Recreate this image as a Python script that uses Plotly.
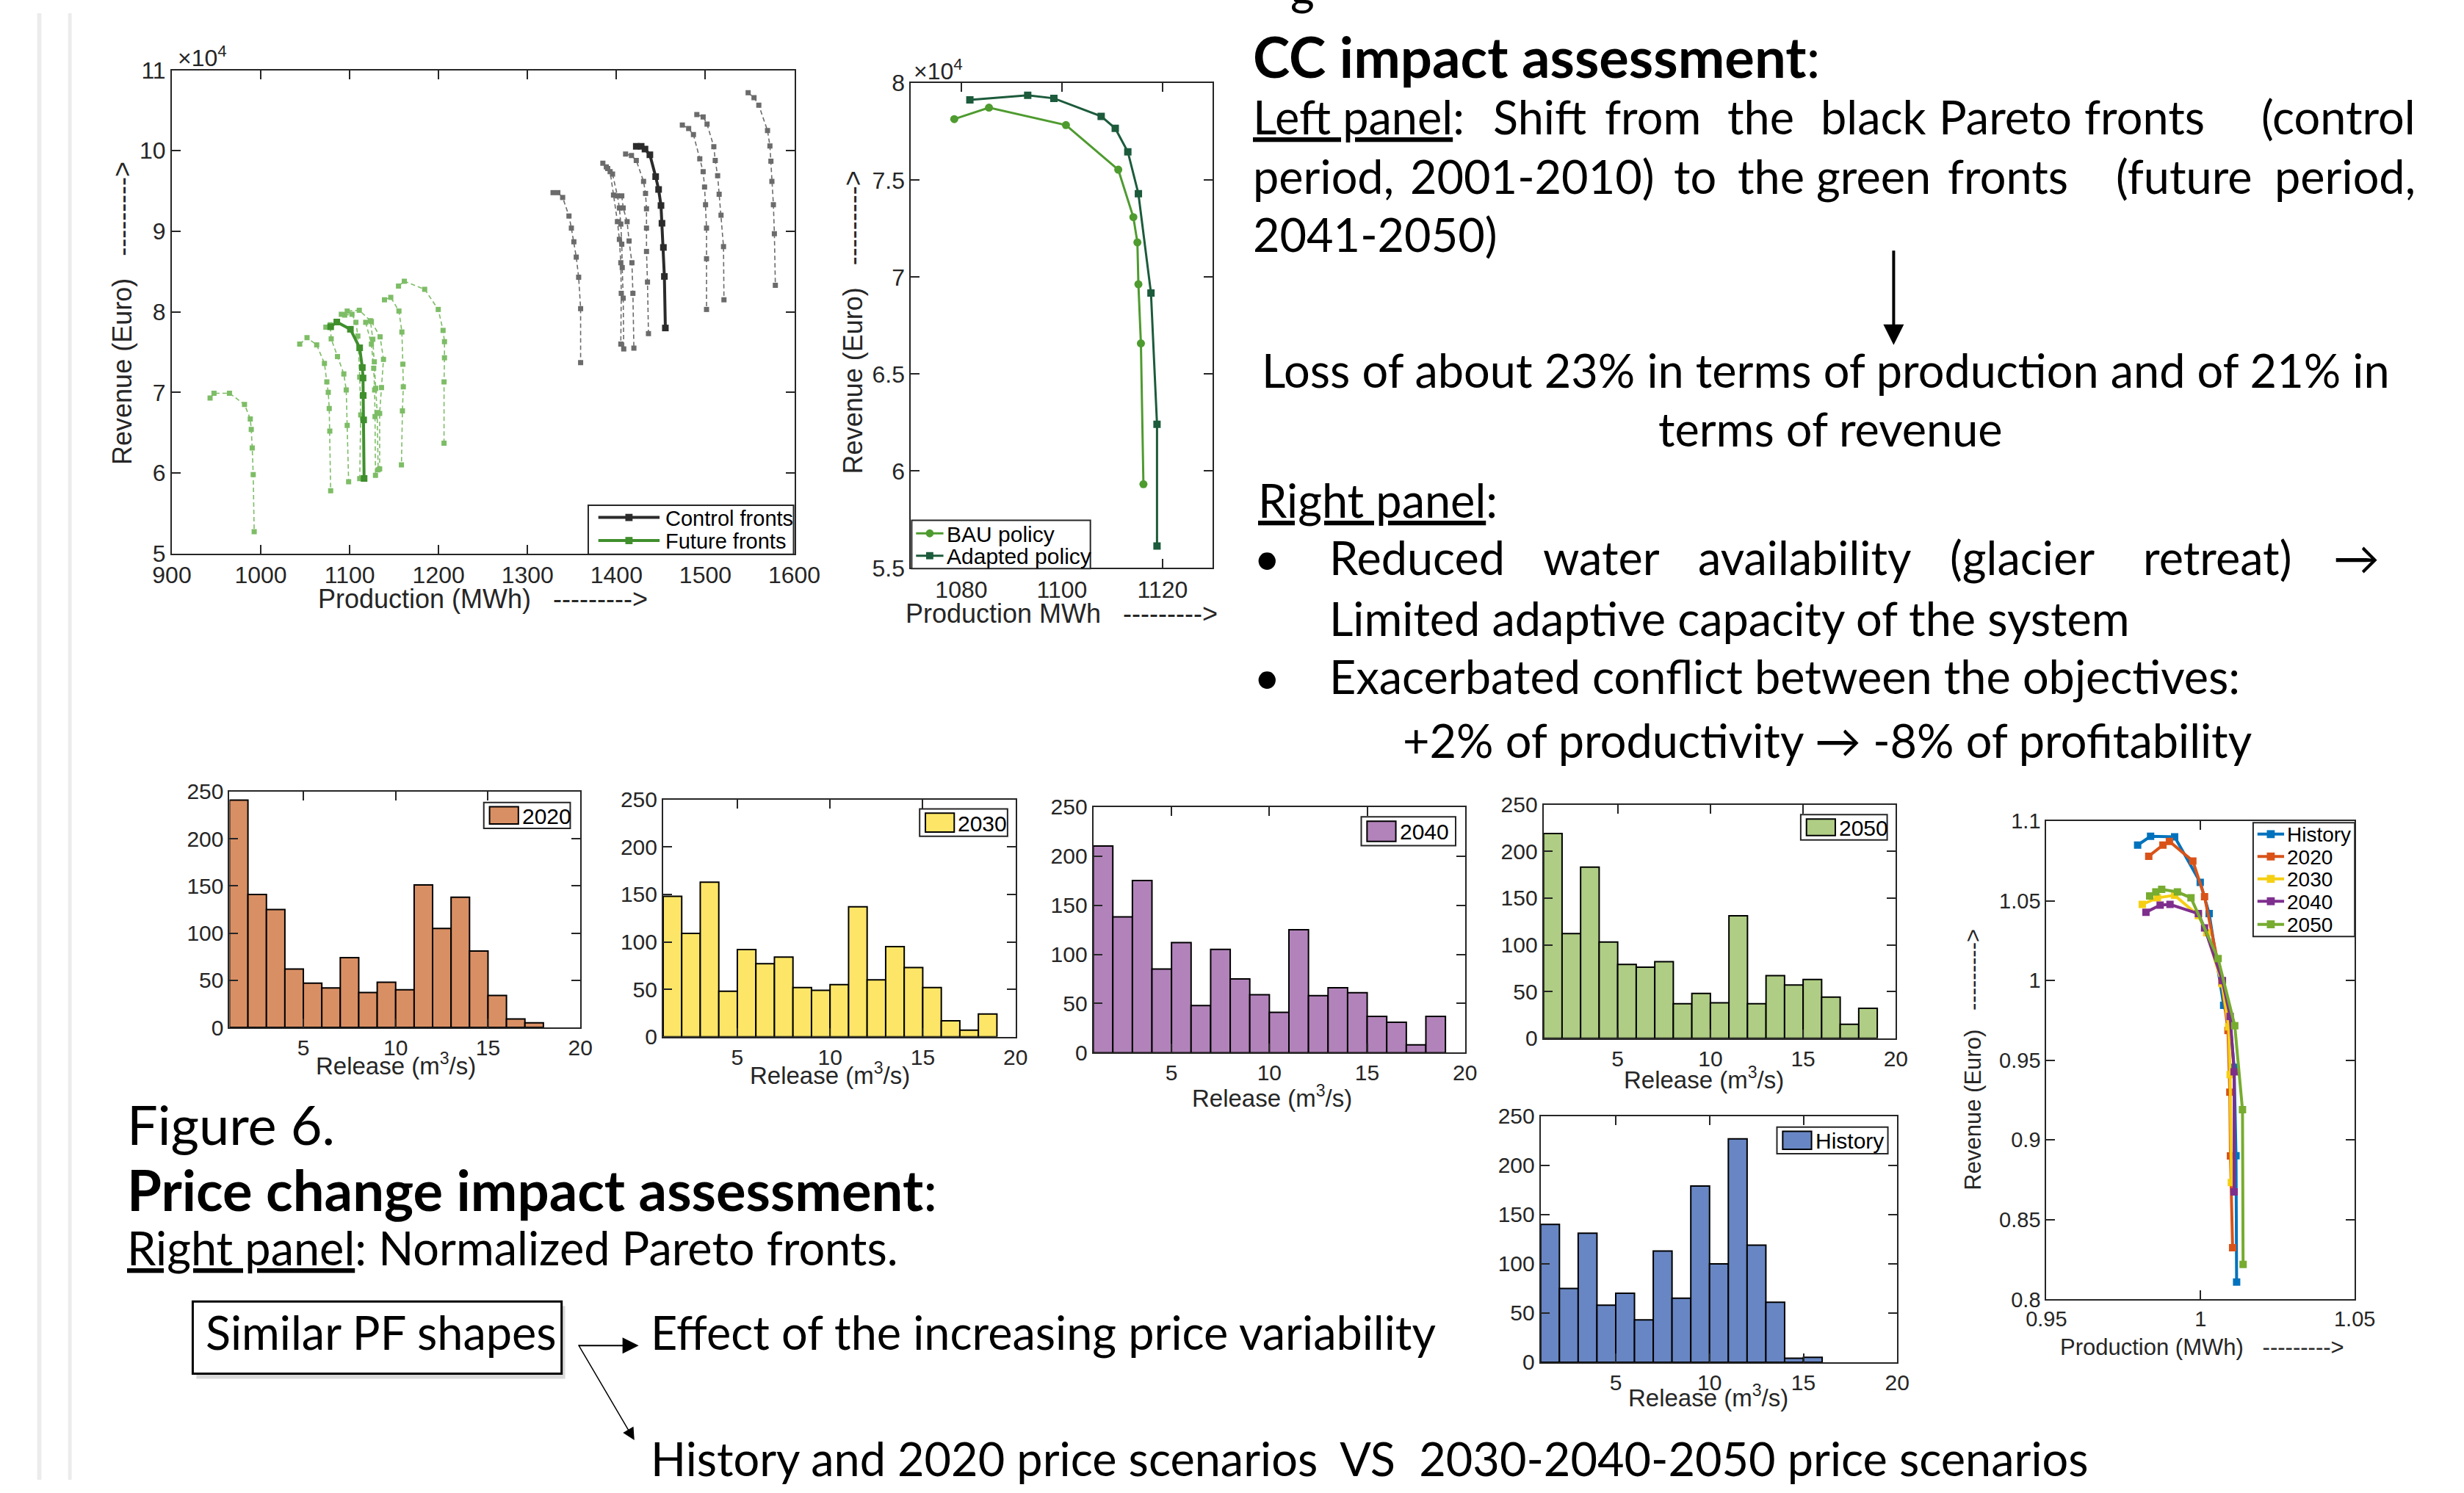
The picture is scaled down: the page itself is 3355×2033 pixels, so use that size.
import plotly.graph_objects as go

W, H = 3355, 2033

# ---------------- data ----------------
# Left panel: Pareto fronts, production (MWh) vs revenue (x 1e4 Euro)
control_fronts_prod = [
    [1328.7, 1334.1, 1339.5, 1346.6, 1349.3, 1352.1, 1354.8, 1357.5, 1359.7, 1359.7],
    [1384.7, 1388.6, 1392.9, 1396.7, 1401.1, 1403.3, 1404.9, 1405.4, 1404.9],
    [1390.2, 1395.6, 1401.1, 1403.3, 1404.9, 1406.0, 1406.5, 1407.6, 1408.2],
    [1406.0, 1407.6, 1412.0, 1414.2, 1417.4, 1418.5, 1419.6],
    [1410.3, 1416.9, 1422.3, 1430.5, 1432.7, 1433.8, 1433.8, 1433.8, 1434.9, 1436.0],
    [1474.1, 1481.2, 1486.6, 1493.7, 1497.5, 1499.1, 1500.2, 1501.3, 1501.3, 1501.3],
    [1490.4, 1497.5, 1501.9, 1509.5, 1511.1, 1513.8, 1515.5, 1517.6, 1520.4, 1520.9],
    [1548.1, 1554.7, 1560.1, 1569.9, 1572.6, 1573.7, 1574.8, 1576.5, 1577.6, 1578.7],
]
control_fronts_rev = [
    [9.48, 9.48, 9.42, 9.19, 9.04, 8.87, 8.68, 8.43, 8.04, 7.37],
    [9.845, 9.80, 9.74, 9.45, 9.12, 8.90, 8.61, 8.23, 7.60],
    [9.78, 9.71, 9.44, 9.29, 9.09, 8.84, 8.55, 8.17, 7.54],
    [9.44, 9.29, 9.12, 8.88, 8.61, 8.23, 7.55],
    [9.96, 9.94, 9.88, 9.62, 9.47, 9.28, 9.04, 8.75, 8.37, 7.73],
    [10.32, 10.275, 10.20, 9.90, 9.74, 9.55, 9.33, 9.04, 8.66, 8.03],
    [10.45, 10.42, 10.33, 10.05, 9.88, 9.69, 9.46, 9.20, 8.81, 8.15],
    [10.72, 10.66, 10.565, 10.25, 10.06, 9.87, 9.62, 9.33, 8.97, 8.33],
]
control_main_prod = [1422.3, 1427.8, 1432.1, 1437.6, 1444.1, 1447.4, 1450.1, 1451.2, 1452.8, 1453.9, 1455.0]
control_main_rev = [10.055, 10.055, 10.02, 9.95, 9.68, 9.52, 9.32, 9.10, 8.80, 8.44, 7.80]

future_fronts_prod = [
    [943.0, 947.4, 964.8, 981.7, 988.2, 989.3, 990.4, 991.5, 992.6],
    [1043.8, 1052.0, 1062.9, 1071.6, 1074.3, 1075.9, 1077.0, 1077.6, 1078.6],
    [1073.2, 1078.1, 1079.2, 1086.3, 1093.4, 1096.1, 1097.2, 1098.8],
    [1094.4, 1102.6, 1107.0, 1109.2, 1111.3, 1112.4, 1111.3],
    [1090.6, 1097.2, 1110.8, 1123.3, 1126.0, 1127.7, 1129.3, 1130.9, 1132.0],
    [1118.0, 1124.4, 1127.0, 1128.0, 1128.5, 1129.0],
    [1124.4, 1134.2, 1138.0, 1135.8, 1133.7, 1133.7],
    [1139.1, 1146.2, 1155.4, 1158.7, 1159.8, 1160.3, 1159.3, 1158.2],
    [1154.9, 1161.4, 1184.3, 1199.6, 1205.0, 1206.6, 1206.6, 1206.1, 1206.1],
]
future_fronts_rev = [
    [6.93, 6.99, 6.99, 6.85, 6.67, 6.54, 6.31, 5.98, 5.27],
    [7.60, 7.68, 7.59, 7.36, 7.13, 7.00, 6.80, 6.52, 5.78],
    [7.81, 7.84, 7.665, 7.445, 7.23, 7.03, 6.59, 5.89],
    [7.96, 7.97, 7.87, 7.70, 7.19, 6.72, 5.93],
    [7.97, 8.01, 8.02, 7.89, 7.66, 7.38, 7.05, 6.75, 6.04],
    [7.87, 7.60, 7.30, 7.03, 6.70, 5.97],
    [7.88, 7.69, 7.41, 7.06, 6.74, 6.05],
    [8.15, 8.18, 8.01, 7.75, 7.35, 7.07, 6.77, 6.10],
    [8.32, 8.38, 8.28, 8.03, 7.77, 7.63, 7.43, 7.13, 6.37],
]

# Middle panel: BAU vs adapted policy (revenue x 1e4 Euro)
bau_prod = [1078.6, 1085.5, 1100.8, 1111.2, 1114.2, 1115.0, 1115.2, 1115.7, 1116.2]
bau_rev = [7.815, 7.874, 7.784, 7.554, 7.309, 7.179, 6.963, 6.658, 5.932]
adapted_prod = [1081.7, 1093.2, 1098.4, 1107.8, 1110.6, 1113.1, 1115.2, 1117.7, 1118.9, 1118.9]
adapted_rev = [7.914, 7.938, 7.922, 7.829, 7.767, 7.646, 7.430, 6.918, 6.241, 5.613]

# Release histograms (counts per 1 m3/s bin starting at 1)
bin_start = 1
bin_width = 1
hist_2020 = [241, 141, 125, 62, 47, 42, 74, 37, 48, 40, 151, 105, 138, 81, 34, 9, 5]
hist_2030 = [148, 109, 163, 48, 92, 77, 84, 52, 49, 55, 137, 60, 95, 73, 52, 17, 7, 24]
hist_2040 = [210, 138, 175, 85, 112, 48, 105, 75, 59, 41, 125, 58, 66, 61, 37, 31, 8, 37]
hist_2050 = [219, 112, 183, 103, 79, 76, 82, 37, 48, 38, 131, 37, 67, 57, 63, 44, 15, 32]
hist_history = [140, 75, 131, 58, 70, 43, 113, 65, 179, 100, 227, 119, 61, 4, 5]

# Normalized Pareto fronts
pf_history_prod = [0.9796, 0.9838, 0.9916, 0.9999, 1.0028, 1.0075, 1.0096, 1.0109, 1.0115, 1.0117]
pf_history_rev = [1.085, 1.0905, 1.0902, 1.0616, 1.042, 0.9845, 0.9733, 0.9456, 0.8901, 0.8109]
pf_2020_prod = [0.9832, 0.9878, 0.9899, 0.9975, 1.0013, 1.0069, 1.0089, 1.0095, 1.0097, 1.0104]
pf_2020_rev = [1.078, 1.085, 1.0873, 1.075, 1.0526, 0.999, 0.9687, 0.930, 0.890, 0.8324]
pf_2030_prod = [0.9811, 0.9860, 0.9916, 0.9993, 1.0020, 1.0070, 1.0091, 1.0096, 1.0100]
pf_2030_rev = [1.0478, 1.0519, 1.0535, 1.0408, 1.0300, 0.998, 0.9710, 0.9410, 0.8733]
pf_2040_prod = [0.9823, 0.9869, 0.9901, 0.9993, 1.0013, 1.0071, 1.0096, 1.0109, 1.0109]
pf_2040_rev = [1.0429, 1.0473, 1.0478, 1.0420, 1.0330, 1.0000, 0.9775, 0.9428, 0.8675]
pf_2050_prod = [0.9835, 0.9855, 0.9874, 0.9925, 0.9969, 1.0057, 1.0111, 1.0136, 1.0138]
pf_2050_rev = [1.0531, 1.0556, 1.0572, 1.0556, 1.0519, 1.0138, 0.9717, 0.9190, 0.8220]

# ---------------- style ----------------
AXC = "#262626"
CHART_FONT = "Liberation Sans, Arial, sans-serif"
SLIDE_FONT = "Lato, 'Open Sans', sans-serif"
NB = "\u00a0"
C_CTRL = "#2b2b2b"
C_FUT = "#3f8f2c"
C_BAU = "#4e9b2f"
C_ADA = "#1c5b3b"


def xd(l, r):
    return [l / W, r / W]


def yd(t, b):
    return [1 - b / H, 1 - t / H]


def px(x):
    return x / W


def py(y):
    return 1 - y / H


fig = go.Figure()

# ---- Left panel traces
for xs, ys in zip(control_fronts_prod, control_fronts_rev):
    fig.add_trace(go.Scatter(x=xs, y=ys, mode="lines+markers", xaxis="x", yaxis="y",
                             line=dict(color="#6b6b6b", width=1.6, dash="6px,4px"),
                             marker=dict(symbol="square", size=7, color="#6b6b6b"),
                             hoverinfo="skip"))
for xs, ys in zip(future_fronts_prod, future_fronts_rev):
    fig.add_trace(go.Scatter(x=xs, y=ys, mode="lines+markers", xaxis="x", yaxis="y",
                             line=dict(color="#7dbd66", width=1.6, dash="6px,4px"),
                             marker=dict(symbol="square", size=7, color="#7dbd66"),
                             hoverinfo="skip"))
fig.add_trace(go.Scatter(x=control_main_prod, y=control_main_rev, mode="lines+markers",
                         xaxis="x", yaxis="y", name="Control fronts",
                         line=dict(color=C_CTRL, width=4),
                         marker=dict(symbol="square", size=9, color=C_CTRL)))
fig.add_trace(go.Scatter(x=bau_prod, y=bau_rev, mode="lines+markers",
                         xaxis="x", yaxis="y", name="Future fronts",
                         line=dict(color=C_FUT, width=4),
                         marker=dict(symbol="square", size=9, color=C_FUT)))

# ---- Middle panel traces
fig.add_trace(go.Scatter(x=bau_prod, y=bau_rev, mode="lines+markers", xaxis="x2", yaxis="y2",
                         name="BAU policy",
                         line=dict(color=C_BAU, width=3),
                         marker=dict(symbol="circle", size=11, color=C_BAU)))
fig.add_trace(go.Scatter(x=adapted_prod, y=adapted_rev, mode="lines+markers", xaxis="x2", yaxis="y2",
                         name="Adapted policy",
                         line=dict(color=C_ADA, width=3),
                         marker=dict(symbol="square", size=10, color=C_ADA)))

# ---- Histograms
hists = [
    ("2020", hist_2020, "#d98f64", "3"),
    ("2030", hist_2030, "#fde667", "4"),
    ("2040", hist_2040, "#b283ba", "5"),
    ("2050", hist_2050, "#afcd84", "6"),
    ("History", hist_history, "#6886c3", "7"),
]
for name, vals, col, k in hists:
    centers = [bin_start + bin_width * (i + 0.5) for i in range(len(vals))]
    fig.add_trace(go.Bar(x=centers, y=vals, width=bin_width, xaxis="x" + k, yaxis="y" + k,
                         name=name, marker=dict(color=col, line=dict(color="black", width=2)),
                         hoverinfo="skip"))

# ---- Normalized Pareto fronts
pf_series = [
    ("History", pf_history_prod, pf_history_rev, "#0072bd"),
    ("2020", pf_2020_prod, pf_2020_rev, "#d95319"),
    ("2030", pf_2030_prod, pf_2030_rev, "#f5cf14"),
    ("2040", pf_2040_prod, pf_2040_rev, "#7e2f8e"),
    ("2050", pf_2050_prod, pf_2050_rev, "#77ac30"),
]
for name, xs, ys, col in pf_series:
    fig.add_trace(go.Scatter(x=xs, y=ys, mode="lines+markers", xaxis="x8", yaxis="y8",
                             name=name,
                             line=dict(color=col, width=4),
                             marker=dict(symbol="square", size=10, color=col)))

# ---------------- axes ----------------
def axis(dom, anchor, rng, tickvals, ticktext=None, size=32):
    d = dict(domain=dom, anchor=anchor, range=rng, tickvals=tickvals,
             showline=True, linecolor=AXC, linewidth=2, mirror="ticks",
             ticks="inside", ticklen=12, tickwidth=2, tickcolor=AXC,
             showgrid=False, zeroline=False,
             tickfont=dict(family=CHART_FONT, size=size, color=AXC))
    if ticktext is not None:
        d["ticktext"] = ticktext
    return d


layout_axes = {}
# P1
layout_axes["xaxis"] = axis(xd(210, 1074), "y", [900, 1600], list(range(900, 1601, 100)))
layout_axes["yaxis"] = axis(yd(79, 749), "x", [5, 11], list(range(5, 12)))
# P2
layout_axes["xaxis2"] = axis(xd(1236, 1655), "y2", [1070, 1130], [1080, 1100, 1120])
layout_axes["yaxis2"] = axis(yd(97, 769), "x2", [5.5, 8], [5.5, 6, 6.5, 7, 7.5, 8],
                             ["5.5", "6", "6.5", "7", "7.5", "8"])
# Histograms
hist_boxes = {
    "3": (290, 777, 1079, 1406),
    "4": (892, 1381, 1090, 1419),
    "5": (1489, 2005, 1100, 1441),
    "6": (2114, 2603, 1097, 1421),
    "7": (2110, 2605, 1529, 1870),
}
for k, (l, r, t, b) in hist_boxes.items():
    layout_axes["xaxis" + k] = axis(xd(l, r), "y" + k, [1, 20], [5, 10, 15, 20], size=30)
    layout_axes["yaxis" + k] = axis(yd(t, b), "x" + k, [0, 250], [0, 50, 100, 150, 200, 250], size=30)
# PN
layout_axes["xaxis8"] = axis(xd(2812, 3240), "y8", [0.95, 1.05], [0.95, 1, 1.05],
                             ["0.95", "1", "1.05"], size=29)
layout_axes["yaxis8"] = axis(yd(1120, 1783), "x8", [0.8, 1.1],
                             [0.8, 0.85, 0.9, 0.95, 1, 1.05, 1.1],
                             ["0.8", "0.85", "0.9", "0.95", "1", "1.05", "1.1"], size=29)

# ---------------- annotations / shapes ----------------
ann = []
shapes = []


def text(x, y, s, size, family=SLIDE_FONT, xanchor="left", yanchor="middle", angle=0, color="black"):
    ann.append(dict(x=px(x), y=py(y), xref="paper", yref="paper", text=s, showarrow=False,
                    xanchor=xanchor, yanchor=yanchor, textangle=angle,
                    font=dict(family=family, size=size, color=color)))


def arrow(x0, y0, x1, y1, width):
    ann.append(dict(x=px(x1), y=py(y1), xref="paper", yref="paper", text="", showarrow=True,
                    ax=x0 - x1, ay=y0 - y1, axref="pixel", ayref="pixel",
                    arrowhead=2, arrowsize=1.4 if width > 2 else 2.2, arrowwidth=width,
                    arrowcolor="black"))


def rect(l, r, t, b, fill, lc=AXC, lw=2, layer="above"):
    shapes.append(dict(type="rect", xref="paper", yref="paper", x0=px(l), x1=px(r), y0=py(b), y1=py(t),
                       line=dict(color=lc, width=lw), fillcolor=fill, layer=layer))


def line_legend(box, items, sample, textx, size, lw):
    l, r, t, b = box
    rect(l, r, t, b, "white")
    x0, x1 = sample
    xm = (x0 + x1) / 2
    for label, col, sym, yrow, ms in items:
        shapes.append(dict(type="line", xref="paper", yref="paper", x0=px(x0), x1=px(x1),
                           y0=py(yrow), y1=py(yrow), line=dict(color=col, width=lw), layer="above"))
        shapes.append(dict(type="circle" if sym == "circle" else "rect", xref="paper", yref="paper",
                           x0=px(xm - ms / 2), x1=px(xm + ms / 2), y0=py(yrow + ms / 2), y1=py(yrow - ms / 2),
                           line=dict(width=0), fillcolor=col, layer="above"))
        text(textx, yrow + 1, label, size, CHART_FONT, "left", color="black")


arrowtxt = NB * 3 + "--------->"
# chart titles
text(642, 812, "Production (MWh)" + arrowtxt, 36, CHART_FONT, "center", color=AXC)
text(141, 416, "Revenue (Euro)" + arrowtxt, 36, CHART_FONT, "center", angle=-90, color=AXC)
text(216, 60, "\u00d710<sup>4</sup>", 32, CHART_FONT, "left", color=AXC)
text(1445, 832, "Production MWh" + arrowtxt, 36, CHART_FONT, "center", color=AXC)
text(1155, 428, "Revenue (Euro)" + arrowtxt, 36, CHART_FONT, "center", angle=-90, color=AXC)
text(1238, 78, "\u00d710<sup>4</sup>", 32, CHART_FONT, "left", color=AXC)
for (cx, cy) in [(521, 1457), (1123, 1470), (1737, 1502), (2337, 1476), (2343, 1917)]:
    text(cx, cy, "Release (m<sup>3</sup>/s)", 33, CHART_FONT, "center", color=AXC)
text(3028, 1849, "Production (MWh)" + arrowtxt, 31, CHART_FONT, "center", color=AXC)
text(2710, 1450, "Revenue (Euro)" + arrowtxt, 31, CHART_FONT, "center", angle=-90, color=AXC)

# line-chart legends
line_legend((788, 1073, 682, 750),
            [("Control fronts", C_CTRL, "square", 699, 10), ("Future fronts", C_FUT, "square", 731, 10)],
            (802, 887), 893, 29, 4)
line_legend((1237, 1485, 703, 770),
            [("BAU policy", C_BAU, "circle", 721, 11), ("Adapted policy", C_ADA, "square", 752, 10)],
            (1243, 1281), 1283, 30, 3)
line_legend((3099, 3240, 1122, 1280),
            [(n, c, "square", yy, 11) for (n, _, _, c), yy in zip(pf_series, [1138, 1169, 1200, 1231, 1263])],
            (3105, 3142), 3144, 28, 4)

# histogram legends (box, patch, label)
hist_leg = [
    ("2020", "#d98f64", (643, 763, 1094, 1130)),
    ("2030", "#fde667", (1248, 1370, 1103, 1141)),
    ("2040", "#b283ba", (1861, 1992, 1114, 1154)),
    ("2050", "#afcd84", (2471, 2591, 1111, 1146)),
    ("History", "#6886c3", (2438, 2592, 1544, 1581)),
]
for name, col, (l, r, t, b) in hist_leg:
    rect(l, r, t, b, "white")
    rect(l + 8, l + 48, t + 6, b - 6, col, lc="black")
    text(l + 51, (t + b) / 2 + 1, name, 30, CHART_FONT, "left", color="black")

# slide background lines
rect(23, 29, 0, H, "#ececec", lw=0, layer="below")
rect(66, 71, 0, H, "#ececec", lw=0, layer="below")

# ---- right text block
S = 63
SB = 76
text(1709, 60, "<b>CC impact assessment</b>:", SB)
line2 = [("<u>Left panel</u>:", 1709, "left"), ("Shift", 2109, "center"), ("from", 2266, "center"),
         ("the", 2416, "center"), ("black", 2572, "center"), ("Pareto", 2755, "center"),
         ("fronts", 2948, "center"), ("(control", 3326, "right")]
for w, x, a in line2:
    text(x, 143, w, S, xanchor=a)
line3 = [("period,", 1709, "left"), ("2001-2010)", 2099, "center"), ("to", 2324, "center"),
         ("the", 2430, "center"), ("green", 2572, "center"), ("fronts", 2759, "center"),
         ("(future", 3003, "center"), ("period,", 3326, "right")]
for w, x, a in line3:
    text(x, 226, w, S, xanchor=a)
text(1709, 306, "2041-2050)", S)
arrow(2600, 330, 2600, 460, 4)
text(2506, 494, "Loss of about 23% in terms of production and of 21% in", S, xanchor="center")
text(2512, 576, "terms of revenue", S, xanchor="center")
text(1716, 674, "<u>Right panel</u>:", S)
text(1731, 754, "\u2022", S, xanchor="center")
line8 = [("Reduced", 1815, "left"), ("water", 2194, "center"), ("availability", 2477, "center"),
         ("(glacier", 2779, "center"), ("retreat)", 3049, "center"), ("\u2192", 3277, "right")]
for w, x, a in line8:
    text(x, 754, w, S, xanchor=a)
text(1815, 838, "Limited adaptive capacity of the system", S)
text(1731, 919, "\u2022", S, xanchor="center")
text(1815, 919, "Exacerbated conflict between the objectives:", S)
text(2508, 1007, "+2% of productivity \u2192 -8% of profitability", S, xanchor="center")
# cut-off line above the top edge
text(1779, 4, "g", S, xanchor="center", yanchor="bottom")

# ---- bottom-left text block
text(146, 1540, "Figure 6.", 74)
text(146, 1630, "<b>Price change impact assessment</b>:", SB)
text(146, 1711, "<u>Right panel</u>: Normalized Pareto fronts.", S)
rect(244, 756, 1792, 1893, "rgba(150,150,150,0.35)", lw=0)
rect(239, 751, 1786, 1886, "white", lc="black", lw=3)
text(255, 1828, "Similar PF shapes", S)
text(873, 1828, "Effect of the increasing price variability", S)
arrow(775, 1847, 858, 1847, 2)
arrow(775, 1847, 852, 1978, 1.5)
text(873, 2003, "History and 2020 price scenarios" + NB * 2 + "VS" + NB * 2 + "2030-2040-2050 price scenarios", S)

fig.update_layout(
    width=W, height=H, autosize=False,
    margin=dict(l=0, r=0, t=0, b=0, pad=0),
    paper_bgcolor="white", plot_bgcolor="white",
    showlegend=False,
    annotations=ann, shapes=shapes,
    **layout_axes,
)

fig.write_html("out.html")
